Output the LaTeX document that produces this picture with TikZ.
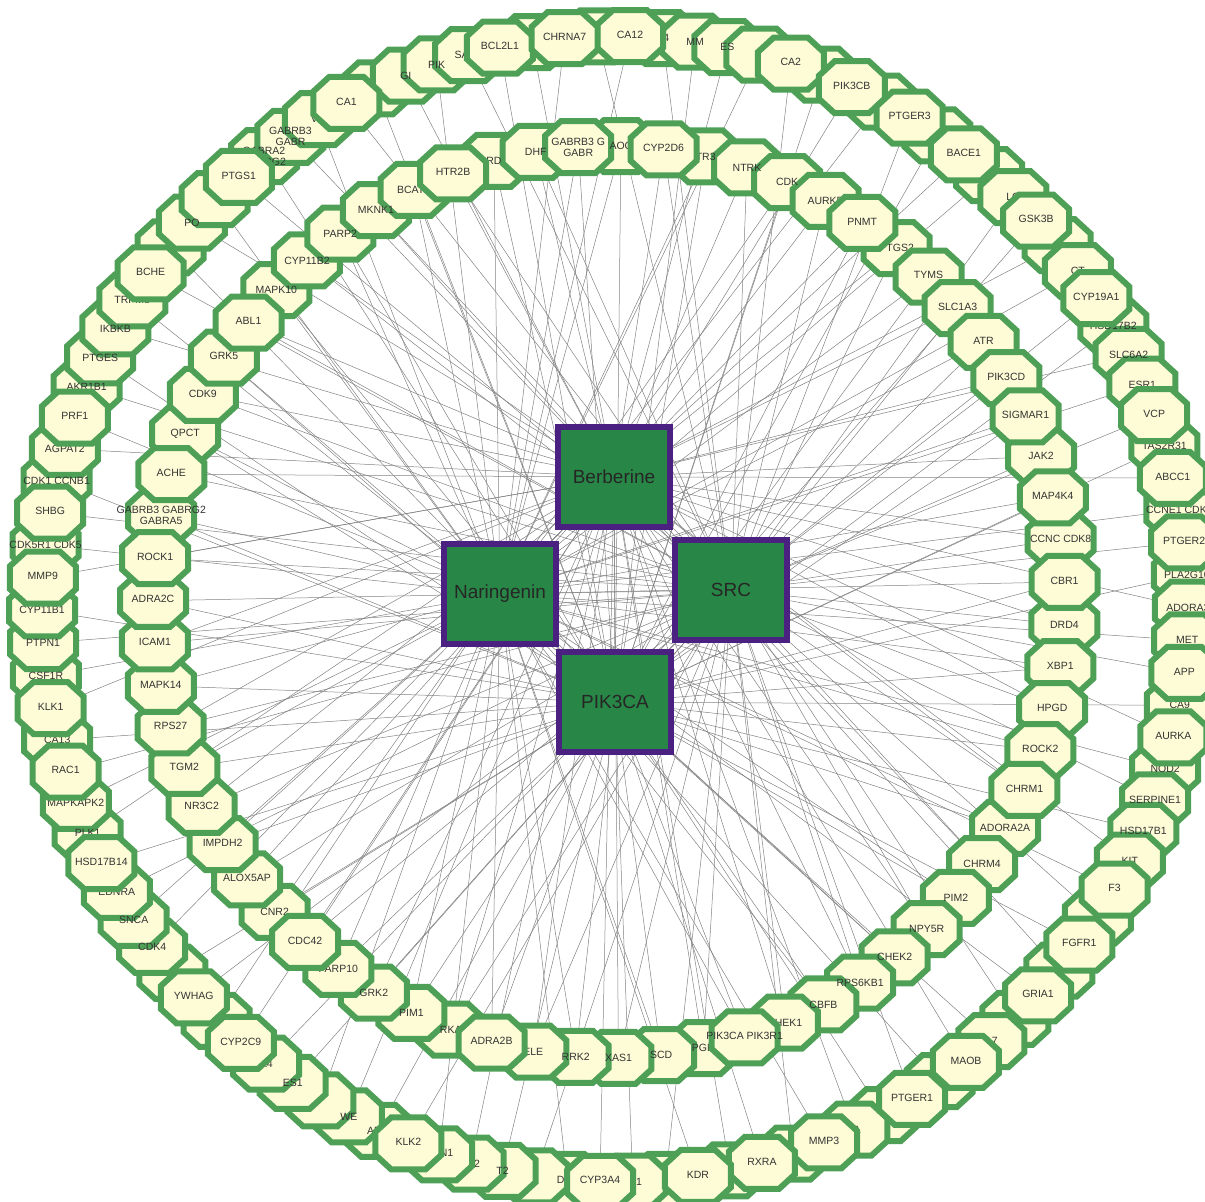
\documentclass[tikz,border=0pt]{standalone}
\usepackage{fontspec}
\setmainfont{Liberation Sans}
\definecolor{ringline}{RGB}{78,160,86}
\definecolor{ringfill}{RGB}{254,252,214}
\definecolor{hubfill}{RGB}{40,134,70}
\definecolor{hubline}{RGB}{74,32,128}
\definecolor{linkgray}{RGB}{130,130,130}
\pgfdeclarelayer{links}
\pgfsetlayers{links,main}
\makeatletter
\pgfdeclareshape{octo}{%
  \inheritsavedanchors[from=rectangle]%
  \inheritanchorborder[from=rectangle]%
  \inheritanchor[from=rectangle]{center}%
  \inheritanchor[from=rectangle]{north}%
  \inheritanchor[from=rectangle]{south}%
  \inheritanchor[from=rectangle]{east}%
  \inheritanchor[from=rectangle]{west}%
  \inheritanchor[from=rectangle]{north east}%
  \inheritanchor[from=rectangle]{north west}%
  \inheritanchor[from=rectangle]{south east}%
  \inheritanchor[from=rectangle]{south west}%
  \backgroundpath{%
    \southwest \pgf@xa=\pgf@x \pgf@ya=\pgf@y
    \northeast \pgf@xb=\pgf@x \pgf@yb=\pgf@y
    \pgf@xc=\pgf@xb \advance\pgf@xc by-\pgf@xa
    \pgf@yc=\pgf@yb \advance\pgf@yc by-\pgf@ya
    \edef\oxa{\the\pgf@xa}\edef\oxb{\the\pgf@xb}%
    \edef\oya{\the\pgf@ya}\edef\oyb{\the\pgf@yb}%
    \edef\ocx{\the\dimexpr 24\pgf@xc/100\relax}%
    \edef\ocy{\the\dimexpr 28\pgf@yc/100\relax}%
    \pgfpathmoveto{\pgfpoint{\oxa+\ocx}{\oya}}%
    \pgfpathlineto{\pgfpoint{\oxb-\ocx}{\oya}}%
    \pgfpathlineto{\pgfpoint{\oxb}{\oya+\ocy}}%
    \pgfpathlineto{\pgfpoint{\oxb}{\oyb-\ocy}}%
    \pgfpathlineto{\pgfpoint{\oxb-\ocx}{\oyb}}%
    \pgfpathlineto{\pgfpoint{\oxa+\ocx}{\oyb}}%
    \pgfpathlineto{\pgfpoint{\oxa}{\oyb-\ocy}}%
    \pgfpathlineto{\pgfpoint{\oxa}{\oya+\ocy}}%
    \pgfpathclose
  }%
}
\makeatother
\newcommand{\tlab}[1]{\makebox[0pt]{\begin{tabular}{@{}c@{}}#1\end{tabular}}}
\def\emptylab{}
\tikzset{
  target/.style={octo, draw=ringline, fill=ringfill, line width=6pt, minimum width=60pt,
    minimum height=46pt, inner sep=0pt, text=black!80, font=\fontsize{10.5}{11}\selectfont},
  tgtext/.style={inner sep=0pt, text=black!80, font=\fontsize{10.5}{11}\selectfont},
  hub/.style={rectangle, draw=hubline, fill=hubfill, line width=6pt, minimum width=112pt,
    minimum height=100pt, text=black!85, font=\fontsize{19}{22}\selectfont},
  link/.style={draw=linkgray, line width=0.5pt},
}
\def\outerlist{CA12/1, X4/0, MM/0, ES/0, P/0, CA2/1, {}/0, PIK3CB/1, {}/0, PTGER3/1, {}/0, BACE1/1, {}/0, LO/0, GSK3B/1, {}/0, CT/0, CYP19A1/1, HSD17B2/0, SLC6A2/0, ESR1/0, VCP/1, TAS2R31/0, ABCC1/1, CCNE1 CDK2/0, PTGER2/1, PLA2G10/0, ADORA3/0, MET/0, APP/1, CA9/0, AURKA/1, NOD2/0, SERPINE1/0, HSD17B1/0, KIT/0, F3/1, {}/0, FGFR1/1, {}/0, GRIA1/1, {}/0, A7/0, MAOB/1, {}/0, PTGER1/1, {}/0, 4A/0, MMP3/1, {}/0, RXRA/1, {}/0, KDR/1, {}/0, 1B1/0, CYP3A4/1, DYF/0, {}/0, T2/0, X12/0, ERN1/1, KLK2/1, ADC/0, WE/0, {}/0, ES1/0, A4/0, CYP2C9/1, {}/0, YWHAG/1, {}/0, CDK4/0, SNCA/0, EDNRA/0, HSD17B14/1, PLK1/0, MAPKAPK2/0, RAC1/1, CA13/0, KLK1/1, CSF1R/0, PTPN1/0, CYP11B1/0, MMP9/1, CDK5R1 CDK5/0, SHBG/1, CDK1 CCNB1/0, AGPAT2/0, PRF1/1, AKR1B1/0, PTGES/0, IKBKB/0, TRPM8/0, BCHE/1, {}/0, PO/0, {}/0, PTGS1/1, {GABRA2\\GABRG2}/0, {GABRB3\\GABR}/0, VE/0, CA1/1, {}/0, GI/0, PIK/0, SAE1/0, BCL2L1/1, {}/0, CHRNA7/1, L2/0}
\def\innerlist{AOC/0, CYP2D6/1, TR3/0, NTRK/0, CDK/0, AURKB/0, PNMT/1, PTGS2/0, TYMS/1, SLC1A3/1, ATR/1, PIK3CD/1, SIGMAR1/1, JAK2/0, MAP4K4/1, CCNC CDK8/0, CBR1/1, DRD4/0, XBP1/1, HPGD/1, ROCK2/1, CHRM1/1, ADORA2A/0, CHRM4/0, PIM2/0, NPY5R/0, CHEK2/0, RPS6KB1/0, CBFB/0, CHEK1/0, PIK3CA PIK3R1/1, PGR/0, SCD/0, XAS1/0, RRK2/0, ELE/0, ADRA2B/1, RKA/0, PIM1/0, GRK2/0, PARP10/0, CDC42/1, CNR2/0, ALOX5AP/1, IMPDH2/1, NR3C2/1, TGM2/1, RPS27/1, MAPK14/1, ICAM1/1, ADRA2C/1, ROCK1/1, {GABRB3 GABRG2\\GABRA5}/0, ACHE/1, QPCT/0, CDK9/1, GRK5/1, ABL1/1, MAPK10/0, CYP11B2/0, PARP2/0, MKNK1/0, BCAT1/0, HTR2B/1, RD/0, DHF/0, {GABRB3 G\\GABR}/0}

\begin{document}
\begin{tikzpicture}[x=1pt,y=-1pt]
    \useasboundingbox (0,0) rectangle (1205,1202);
    % back row of targets, shapes first and their names after
    \foreach \lab/\z [count=\k] in \outerlist
    {
        \ifnum\z=0
            \pgfmathsetmacro\a{88.5-(\k-1)*3.27273}
            \node[target] (o\k) at ({615+573*cos(\a)},{609-573*sin(\a)}) {};
        \fi
    }
    \foreach \lab/\z [count=\k] in \innerlist
    {
        \ifnum\z=0
            \pgfmathsetmacro\a{88.5-(\k-1)*5.37313}
            \node[target] (i\k) at ({609+456*cos(\a)},{602-456*sin(\a)}) {};
        \fi
    }
    \foreach \lab/\z [count=\k] in \outerlist
    {
        \ifnum\z=0 \ifx\lab\emptylab\else
            \node[tgtext, align=center] (ot\k) at (o\k) {\lab};
        \fi\fi
    }
    \foreach \lab/\z [count=\k] in \innerlist
    {
        \ifnum\z=0 \ifx\lab\emptylab\else
            \node[tgtext, align=center] (it\k) at (i\k) {\lab};
        \fi\fi
    }
    % front row
    \foreach \lab/\z [count=\k] in \outerlist
    {
        \ifnum\z=1
            \pgfmathsetmacro\a{88.5-(\k-1)*3.27273}
            \node[target] (o\k) at ({615+573*cos(\a)},{609-573*sin(\a)}) {\tlab{\lab}};
        \fi
    }
    \foreach \lab/\z [count=\k] in \innerlist
    {
        \ifnum\z=1
            \pgfmathsetmacro\a{88.5-(\k-1)*5.37313}
            \node[target] (i\k) at ({609+456*cos(\a)},{602-456*sin(\a)}) {\tlab{\lab}};
        \fi
    }
    \node[hub, alias=h0] (berberine) at (614,477) {Berberine};
    \node[hub, alias=h1] (naringenin) at (500,594) {Naringenin};
    \node[hub, alias=h2] (src) at (731,590) {SRC};
    \node[hub, alias=h3] (pik3ca) at (615,702) {PIK3CA};
    \begin{pgfonlayer}{links}
        \foreach \k in {1,...,110}
        {
            \pgfmathtruncatemacro\h{mod(\k,4)}
            \draw[link] (o\k.center) -- (h\h);
        }
        \foreach \k in {1,...,67}
        {
            \pgfmathtruncatemacro\h{mod(\k,4)}
            \pgfmathtruncatemacro\g{mod(\k+2,4)}
            \draw[link] (i\k.center) -- (h\h);
            \draw[link] (i\k.center) -- (h\g);
        }
        \foreach \p/\q in {berberine/naringenin, berberine/src, berberine/pik3ca, naringenin/src, naringenin/pik3ca, src/pik3ca}
        {
            \draw[link] (\p) -- (\q);
        }
    \end{pgfonlayer}
\end{tikzpicture}
\end{document}
